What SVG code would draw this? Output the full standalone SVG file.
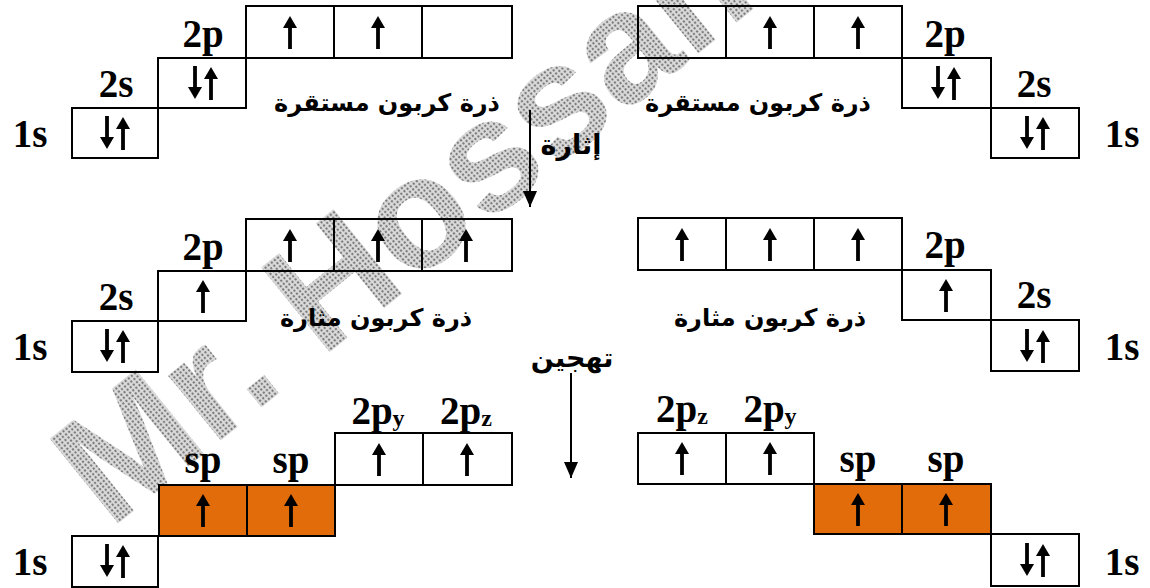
<svg xmlns="http://www.w3.org/2000/svg" width="1150" height="588" viewBox="0 0 1150 588">
<style>
.box{fill:none;stroke:#000;stroke-width:2}
.hyb{fill:#E36C0A;stroke:#000;stroke-width:2}
.lbl{font-family:"Liberation Serif","Times New Roman",serif;font-weight:bold;font-size:39px;fill:#000;text-anchor:middle}
.sub{font-size:24px}
.ar{font-family:"DejaVu Sans","Noto Sans",sans-serif;font-weight:bold;font-size:24px;fill:#000;text-anchor:middle}
.ar2{font-size:27px}
.wm{font-family:"Liberation Sans",Arial,sans-serif;font-weight:bold;font-size:158px;fill:url(#dots)}
.conn{stroke:#000;stroke-width:2;fill:none}
</style>
<defs>
<pattern id="dots" width="4" height="4" patternUnits="userSpaceOnUse">
<rect width="4" height="4" fill="#dcdcdc"/>
<circle cx="2" cy="2" r="1.2" fill="#7a7a7a"/>
</pattern>
<g id="up"><rect x="-1.9" y="-6" width="3.8" height="23"/><path d="M-7,-4 L0,-16 L7,-4 Z"/></g>
<g id="dn"><rect x="-1.9" y="-17" width="3.8" height="23"/><path d="M-7,4 L0,16 L7,4 Z"/></g>
<g id="pair"><use href="#dn" x="-8"/><use href="#up" x="8"/></g>
<marker id="ah" viewBox="0 0 16 14" refX="16" refY="7" markerWidth="16" markerHeight="14" markerUnits="userSpaceOnUse" orient="auto"><path d="M0,0 L16,7 L0,14 Z" fill="#000"/></marker>
</defs>

<g id="watermark">
<text class="wm" transform="translate(110,530) rotate(-39)">Mr. Hossam</text>
</g>

<!-- Top-left: stable carbon -->
<g id="stable-left">
<rect class="box" x="72" y="108" width="86" height="50"/>
<rect class="box" x="158" y="58" width="88" height="50"/>
<rect class="box" x="246" y="6" width="266" height="52"/>
<line class="box" x1="334" y1="6" x2="334" y2="58"/>
<line class="box" x1="422" y1="6" x2="422" y2="58"/>
<use href="#pair" x="115" y="133"/>
<use href="#pair" x="203" y="83"/>
<use href="#up" x="290" y="32"/>
<use href="#up" x="378" y="32"/>
<text class="lbl" x="30" y="147">1s</text>
<text class="lbl" x="116" y="97">2s</text>
<text class="lbl" x="203" y="47">2p</text>
<text class="ar" x="387" y="111">ذرة كربون مستقرة</text>
</g>

<!-- Top-right: stable carbon -->
<g id="stable-right">
<rect class="box" x="638" y="6" width="264" height="52"/>
<line class="box" x1="726" y1="6" x2="726" y2="58"/>
<line class="box" x1="814" y1="6" x2="814" y2="58"/>
<rect class="box" x="902" y="58" width="89" height="50"/>
<rect class="box" x="991" y="108" width="88" height="50"/>
<use href="#up" x="770" y="32"/>
<use href="#up" x="858" y="32"/>
<use href="#pair" x="946" y="83"/>
<use href="#pair" x="1035" y="133"/>
<text class="lbl" x="945" y="47">2p</text>
<text class="lbl" x="1034" y="97">2s</text>
<text class="lbl" x="1122" y="147">1s</text>
<text class="ar" x="758" y="111">ذرة كربون مستقرة</text>
</g>

<!-- Middle-left: excited carbon -->
<g id="excited-left">
<rect class="box" x="72" y="321" width="86" height="51"/>
<rect class="box" x="158" y="271" width="88" height="50"/>
<rect class="box" x="246" y="219" width="266" height="52"/>
<line class="box" x1="334" y1="219" x2="334" y2="271"/>
<line class="box" x1="422" y1="219" x2="422" y2="271"/>
<use href="#pair" x="115" y="346"/>
<use href="#up" x="203" y="296"/>
<use href="#up" x="290" y="245"/>
<use href="#up" x="378" y="245"/>
<use href="#up" x="466" y="245"/>
<text class="lbl" x="30" y="360">1s</text>
<text class="lbl" x="116" y="310">2s</text>
<text class="lbl" x="203" y="260">2p</text>
<text class="ar" x="376" y="326">ذرة كربون مثارة</text>
</g>

<!-- Middle-right: excited carbon -->
<g id="excited-right">
<rect class="box" x="638" y="218" width="264" height="52"/>
<line class="box" x1="726" y1="218" x2="726" y2="270"/>
<line class="box" x1="814" y1="218" x2="814" y2="270"/>
<rect class="box" x="902" y="270" width="89" height="50"/>
<rect class="box" x="991" y="320" width="88" height="51"/>
<use href="#up" x="682" y="244"/>
<use href="#up" x="770" y="244"/>
<use href="#up" x="858" y="244"/>
<use href="#up" x="946" y="295"/>
<use href="#pair" x="1035" y="346"/>
<text class="lbl" x="945" y="258">2p</text>
<text class="lbl" x="1034" y="308">2s</text>
<text class="lbl" x="1122" y="360">1s</text>
<text class="ar" x="770" y="326">ذرة كربون مثارة</text>
</g>

<!-- Bottom-left: hybridized carbon -->
<g id="hybrid-left">
<rect class="box" x="72" y="536" width="86" height="51"/>
<rect class="hyb" x="159" y="485" width="88" height="51"/>
<rect class="hyb" x="247" y="485" width="88" height="51"/>
<rect class="box" x="335" y="433" width="177" height="52"/>
<line class="box" x1="423" y1="433" x2="423" y2="485"/>
<use href="#pair" x="115" y="561"/>
<use href="#up" x="203" y="510"/>
<use href="#up" x="291" y="510"/>
<use href="#up" x="379" y="459"/>
<use href="#up" x="467" y="459"/>
<text class="lbl" x="30" y="575">1s</text>
<text class="lbl" x="203" y="473">sp</text>
<text class="lbl" x="291" y="473">sp</text>
<text class="lbl" x="378" y="424">2p<tspan class="sub" dy="2">y</tspan></text>
<text class="lbl" x="466" y="424">2p<tspan class="sub" dy="2">z</tspan></text>
</g>

<!-- Bottom-right: hybridized carbon -->
<g id="hybrid-right">
<rect class="box" x="638" y="433" width="176" height="51"/>
<line class="box" x1="726" y1="433" x2="726" y2="484"/>
<rect class="hyb" x="814" y="484" width="88" height="50"/>
<rect class="hyb" x="902" y="484" width="89" height="50"/>
<rect class="box" x="991" y="534" width="88" height="52"/>
<use href="#up" x="682" y="458"/>
<use href="#up" x="770" y="458"/>
<use href="#up" x="858" y="509"/>
<use href="#up" x="946" y="509"/>
<use href="#pair" x="1035" y="560"/>
<text class="lbl" x="682" y="422">2p<tspan class="sub" dy="2">z</tspan></text>
<text class="lbl" x="770" y="422">2p<tspan class="sub" dy="2">y</tspan></text>
<text class="lbl" x="858" y="472">sp</text>
<text class="lbl" x="946" y="472">sp</text>
<text class="lbl" x="1122" y="575">1s</text>
</g>

<g id="connectors">
<line class="conn" x1="530" y1="110" x2="530" y2="207" marker-end="url(#ah)"/>
<text class="ar ar2" x="571" y="154">إثارة</text>
<line class="conn" x1="571" y1="373" x2="571" y2="478" marker-end="url(#ah)"/>
<text class="ar ar2" x="572" y="367">تهجين</text>
</g>
</svg>
